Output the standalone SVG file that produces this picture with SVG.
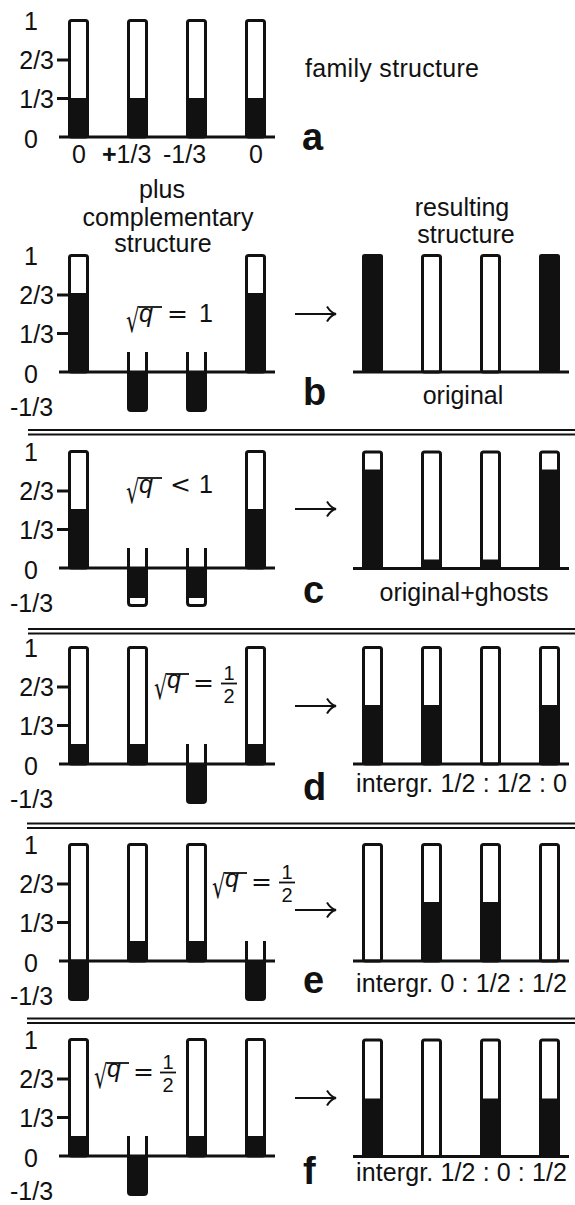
<svg xmlns="http://www.w3.org/2000/svg" xmlns:xlink="http://www.w3.org/1999/xlink" width="575" height="1205" viewBox="0 0 575 1205">
<style>
.t{font-family:"Liberation Sans",Arial,sans-serif;font-size:25px;fill:#111}
.c{text-anchor:middle}
.e{text-anchor:end}
.lbl{font-family:"Liberation Sans",Arial,sans-serif;font-size:38px;font-weight:bold;fill:#111}
.mi{font-family:"Liberation Sans",Arial,sans-serif;font-size:25px;font-style:italic;fill:#111}
.op{font-family:"DejaVu Sans",sans-serif;font-size:25px;fill:#111}
.rad{font-family:"DejaVu Sans",sans-serif;font-size:32px;fill:#111}
.fr{font-family:"Liberation Sans",Arial,sans-serif;font-size:20px;fill:#111;text-anchor:middle}
.bar{fill:#fff;stroke:#111;stroke-width:3}
.blk{fill:#111}
.ax{stroke:#111;stroke-width:3;fill:none}
.vin{stroke:#111;stroke-width:1.8}
.sep{stroke:#111;stroke-width:2}
.arr{stroke:#111;stroke-width:2.2;fill:none}
</style>
<defs>
<rect id="ob" x="1.5" y="-116.5" width="18" height="116.5" rx="2" class="bar"/>
<rect id="fb" x="0" y="-118" width="21" height="118" rx="2.5" class="blk"/>
<path id="nb" d="M0,0 V36 Q0,40 4,40 H17 Q21,40 21,36 V0 Z" class="blk"/>
<path id="ol" d="M1.5,-20 V0 M19.5,-20 V0" class="ax"/>
<path id="gb" d="M1.5,0 V34.5 Q1.5,37.5 4.5,37.5 H16.5 Q19.5,37.5 19.5,34.5 V0" class="bar"/>
<g id="yax">
<text class="t c" x="31" y="-107">1</text>
<text class="t e" x="54" y="-68">2/3</text>
<text class="t e" x="54" y="-29">1/3</text>
<text class="t c" x="31" y="11">0</text>
<line class="ax" x1="57" x2="69" y1="-77" y2="-77"/>
<line class="ax" x1="57" x2="69" y1="-38.5" y2="-38.5"/>
</g>
<text id="m13" class="t" x="10" y="44">-1/3</text>
<marker id="ah" markerWidth="14" markerHeight="18" refX="11" refY="9" orient="auto" markerUnits="userSpaceOnUse" overflow="visible">
<path d="M2,1.5 Q6,8 11,9 Q6,10 2,16.5" fill="none" stroke="#111" stroke-width="2"/>
</marker>
</defs>

<!-- Panel a -->
<g id="panel-a" transform="translate(0,137)">
<use href="#yax"/>
<use href="#ob" x="68"/><rect class="blk" x="68" y="-39" width="21" height="39"/>
<use href="#ob" x="127"/><rect class="blk" x="127" y="-39" width="21" height="39"/>
<use href="#ob" x="186"/><rect class="blk" x="186" y="-39" width="21" height="39"/>
<use href="#ob" x="245"/><rect class="blk" x="245" y="-39" width="21" height="39"/>
<line class="ax" x1="59" x2="275" y1="0" y2="0"/>
<text class="t c" x="79" y="26">0</text>
<text class="t" x="102" y="26"><tspan font-weight="bold">+</tspan>1/3</text>
<text class="t" x="163" y="26">-1/3</text>
<text class="t c" x="256" y="26">0</text>
</g>
<g id="label-a">
<text class="t" x="305" y="77" textLength="174" lengthAdjust="spacing">family structure</text>
<text class="lbl" x="302" y="150">a</text>
</g>

<!-- headings -->
<g id="heading-left">
<text class="t c" x="162" y="198">plus</text>
<text class="t c" x="168" y="226">complementary</text>
<text class="t c" x="163" y="252">structure</text>
</g>
<g id="heading-right">
<text class="t c" x="462" y="216">resulting</text>
<text class="t c" x="466" y="243">structure</text>
</g>

<!-- Panel b -->
<g id="panel-b-left" transform="translate(0,372)">
<use href="#yax"/><use href="#m13"/>
<use href="#ob" x="68"/><rect class="blk" x="68" y="-79" width="21" height="79"/>
<use href="#ol" x="127"/><use href="#nb" x="127"/>
<use href="#ol" x="186"/><use href="#nb" x="186"/>
<use href="#ob" x="245"/><rect class="blk" x="245" y="-79" width="21" height="79"/>
<line class="ax" x1="59" x2="275" y1="0" y2="0"/>
<g transform="translate(127,-58)">
<text class="rad" transform="translate(-1,17.5) scale(0.66,1)">√</text>
<line class="vin" x1="12" x2="35" y1="-7" y2="-7"/>
<text class="mi" x="12" y="8">q</text>
<text class="op" x="40" y="8">=</text>
<text class="t" x="72" y="8">1</text>
</g>
</g>
<g id="panel-b-right" transform="translate(0,372)">
<use href="#fb" x="362"/>
<use href="#ob" x="421"/>
<use href="#ob" x="480"/>
<use href="#fb" x="539"/>
<line class="ax" x1="353" x2="569" y1="0" y2="0"/>
<text class="t c" x="463" y="32">original</text>
<text class="lbl" x="303" y="33">b</text>
</g>

<!-- Panel c -->
<g id="panel-c-left" transform="translate(0,568)">
<use href="#yax"/><use href="#m13"/>
<use href="#ob" x="68"/><rect class="blk" x="68" y="-59" width="21" height="59"/>
<use href="#ol" x="127"/><use href="#gb" x="127"/><rect class="blk" x="127" y="0" width="21" height="30"/>
<use href="#ol" x="186"/><use href="#gb" x="186"/><rect class="blk" x="186" y="0" width="21" height="30"/>
<use href="#ob" x="245"/><rect class="blk" x="245" y="-59" width="21" height="59"/>
<line class="ax" x1="59" x2="275" y1="0" y2="0"/>
<g transform="translate(127,-83)">
<text class="rad" transform="translate(-1,17.5) scale(0.66,1)">√</text>
<line class="vin" x1="12" x2="35" y1="-7" y2="-7"/>
<text class="mi" x="12" y="8">q</text>
<text class="op" x="43" y="8">&lt;</text>
<text class="t" x="72" y="8">1</text>
</g>
</g>
<g id="panel-c-right" transform="translate(0,568.5)">
<use href="#ob" x="362"/><rect class="blk" x="362" y="-99" width="21" height="99"/>
<use href="#ob" x="421"/><rect class="blk" x="421" y="-9" width="21" height="9"/>
<use href="#ob" x="480"/><rect class="blk" x="480" y="-9" width="21" height="9"/>
<use href="#ob" x="539"/><rect class="blk" x="539" y="-99" width="21" height="99"/>
<line class="ax" x1="353" x2="569" y1="0" y2="0"/>
<text class="t c" x="464" y="32">original+ghosts</text>
<text class="lbl" x="303" y="34">c</text>
</g>

<!-- Panel d -->
<g id="panel-d-left" transform="translate(0,764)">
<use href="#yax"/><use href="#m13"/>
<use href="#ob" x="68"/><rect class="blk" x="68" y="-20" width="21" height="20"/>
<use href="#ob" x="127"/><rect class="blk" x="127" y="-20" width="21" height="20"/>
<use href="#ol" x="186"/><use href="#nb" x="186"/>
<use href="#ob" x="245"/><rect class="blk" x="245" y="-20" width="21" height="20"/>
<line class="ax" x1="59" x2="275" y1="0" y2="0"/>
<g transform="translate(155,-81)">
<text class="rad" transform="translate(-1,15.5) scale(0.66,1)">√</text>
<line class="vin" x1="12" x2="34" y1="-9" y2="-9"/>
<text class="mi" x="12" y="5">q</text>
<text class="op" x="38" y="8">=</text>
<text class="fr" x="74" y="-3.5">1</text>
<line class="vin" x1="66" x2="82" y1="0.5" y2="0.5"/>
<text class="fr" x="74" y="19.5">2</text>
</g>
</g>
<g id="panel-d-right" transform="translate(0,764)">
<use href="#ob" x="362"/><rect class="blk" x="362" y="-59" width="21" height="59"/>
<use href="#ob" x="421"/><rect class="blk" x="421" y="-59" width="21" height="59"/>
<use href="#ob" x="480"/>
<use href="#ob" x="539"/><rect class="blk" x="539" y="-59" width="21" height="59"/>
<line class="ax" x1="353" x2="569" y1="0" y2="0"/>
<text class="t" x="356" y="28" textLength="211" lengthAdjust="spacing">intergr. 1/2 : 1/2 : 0</text>
<text class="lbl" x="303" y="36">d</text>
</g>

<!-- Panel e -->
<g id="panel-e-left" transform="translate(0,961)">
<use href="#yax"/><use href="#m13"/>
<use href="#nb" x="68"/><use href="#ob" x="68"/>
<use href="#ob" x="127"/><rect class="blk" x="127" y="-20" width="21" height="20"/>
<use href="#ob" x="186"/><rect class="blk" x="186" y="-20" width="21" height="20"/>
<use href="#ol" x="245"/><use href="#nb" x="245"/>
<line class="ax" x1="59" x2="275" y1="0" y2="0"/>
<g transform="translate(213,-79)">
<text class="rad" transform="translate(-1,15.5) scale(0.66,1)">√</text>
<line class="vin" x1="12" x2="34" y1="-9" y2="-9"/>
<text class="mi" x="12" y="5">q</text>
<text class="op" x="38" y="8">=</text>
<text class="fr" x="74" y="-3.5">1</text>
<line class="vin" x1="66" x2="82" y1="0.5" y2="0.5"/>
<text class="fr" x="74" y="19.5">2</text>
</g>
</g>
<g id="panel-e-right" transform="translate(0,961)">
<use href="#ob" x="362"/>
<use href="#ob" x="421"/><rect class="blk" x="421" y="-59" width="21" height="59"/>
<use href="#ob" x="480"/><rect class="blk" x="480" y="-59" width="21" height="59"/>
<use href="#ob" x="539"/>
<line class="ax" x1="353" x2="569" y1="0" y2="0"/>
<text class="t" x="356" y="31" textLength="211" lengthAdjust="spacing">intergr. 0 : 1/2 : 1/2</text>
<text class="lbl" x="303" y="32">e</text>
</g>

<!-- Panel f -->
<g id="panel-f-left" transform="translate(0,1156)">
<use href="#yax"/><use href="#m13"/>
<use href="#ob" x="68"/><rect class="blk" x="68" y="-20" width="21" height="20"/>
<use href="#ol" x="127"/><use href="#nb" x="127"/>
<use href="#ob" x="186"/><rect class="blk" x="186" y="-20" width="21" height="20"/>
<use href="#ob" x="245"/><rect class="blk" x="245" y="-20" width="21" height="20"/>
<line class="ax" x1="59" x2="275" y1="0" y2="0"/>
<g transform="translate(95,-84)">
<text class="rad" transform="translate(-1,15.5) scale(0.66,1)">√</text>
<line class="vin" x1="12" x2="34" y1="-9" y2="-9"/>
<text class="mi" x="12" y="5">q</text>
<text class="op" x="38" y="8">=</text>
<text class="fr" x="73" y="-3.5">1</text>
<line class="vin" x1="65" x2="81" y1="0.5" y2="0.5"/>
<text class="fr" x="73" y="19.5">2</text>
</g>
</g>
<g id="panel-f-right" transform="translate(0,1156.5)">
<use href="#ob" x="362"/><rect class="blk" x="362" y="-58" width="21" height="58"/>
<use href="#ob" x="421"/>
<use href="#ob" x="480"/><rect class="blk" x="480" y="-58" width="21" height="58"/>
<use href="#ob" x="539"/><rect class="blk" x="539" y="-58" width="21" height="58"/>
<line class="ax" x1="353" x2="569" y1="0" y2="0"/>
<text class="t" x="356" y="24" textLength="211" lengthAdjust="spacing">intergr. 1/2 : 0 : 1/2</text>
<text class="lbl" x="303" y="27">f</text>
</g>

<!-- separators -->
<g id="separators">
<line class="sep" x1="28" x2="575" y1="430" y2="430"/>
<line class="sep" x1="28" x2="575" y1="434.5" y2="434.5"/>
<line class="sep" x1="28" x2="575" y1="629" y2="629"/>
<line class="sep" x1="28" x2="575" y1="633.5" y2="633.5"/>
<line class="sep" x1="27" x2="575" y1="823.5" y2="823.5"/>
<line class="sep" x1="27" x2="575" y1="828" y2="828"/>
<line class="sep" x1="27" x2="575" y1="1018.5" y2="1018.5"/>
<line class="sep" x1="27" x2="575" y1="1023" y2="1023"/>
</g>

<!-- connectors -->
<g id="connectors">
<line class="arr" x1="295" x2="336" y1="314" y2="314" marker-end="url(#ah)"/>
<line class="arr" x1="295" x2="336" y1="509" y2="509" marker-end="url(#ah)"/>
<line class="arr" x1="295" x2="336" y1="706" y2="706" marker-end="url(#ah)"/>
<line class="arr" x1="295" x2="336" y1="910" y2="910" marker-end="url(#ah)"/>
<line class="arr" x1="295" x2="336" y1="1098" y2="1098" marker-end="url(#ah)"/>
</g>
</svg>
